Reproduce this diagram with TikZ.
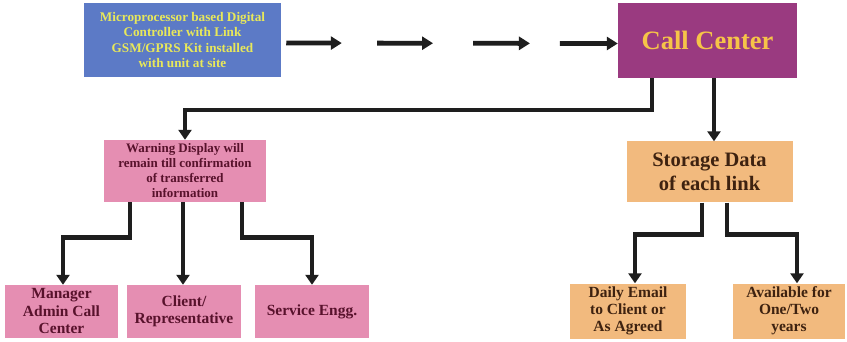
\documentclass[tikz,border=0pt]{standalone}
\usepackage{fontspec}
\setmainfont{Liberation Serif}
\usetikzlibrary{arrows.meta,calc}
\definecolor{bluebox}{RGB}{92,122,198}
\definecolor{bluetext}{RGB}{232,232,90}
\definecolor{purplebox}{RGB}{154,58,128}
\definecolor{purpletext}{RGB}{246,196,72}
\definecolor{pinkbox}{RGB}{229,142,178}
\definecolor{pinktext}{RGB}{88,18,44}
\definecolor{tanbox}{RGB}{242,186,126}
\definecolor{tantext}{RGB}{62,34,16}
\definecolor{linecol}{RGB}{30,30,30}
\tikzset{
  x=1pt, y=-1pt,
  boxbase/.style={rectangle, inner sep=1pt, align=center, font=\bfseries},
  bluenode/.style={boxbase, fill=bluebox, text=bluetext, minimum width=197pt, minimum height=74pt, font=\bfseries\fontsize{13.2}{15.5}\selectfont},
  callnode/.style={boxbase, fill=purplebox, text=purpletext, minimum width=179pt, minimum height=75pt, font=\bfseries\fontsize{26.5}{30}\selectfont},
  pinknode/.style={boxbase, fill=pinkbox, text=pinktext, font=\bfseries\fontsize{15.5}{17.5}\selectfont},
  tannode/.style={boxbase, fill=tanbox, text=tantext, font=\bfseries\fontsize{15.5}{17}\selectfont},
  conn/.style={draw=linecol, line width=4.8pt, -{Triangle[width=13pt,length=10pt]}},
  hconn/.style={draw=linecol, line width=4.8pt, -{Triangle[width=13pt,length=11pt]}}
}
\begin{document}
\begin{tikzpicture}
\useasboundingbox[fill=white] (0,0) rectangle (847,342);
\node[bluenode] (src) at (182.5,40) {Microprocessor based Digital\\Controller with Link\\GSM/GPRS Kit installed\\with unit at site};
\node[callnode] (call) at (707.5,40.5) {Call Center};
\node[pinknode, minimum width=162pt, minimum height=62pt, font=\bfseries\fontsize{13}{15}\selectfont] (warn) at (185,171) {Warning Display will\\remain till confirmation\\of transferred\\information};
\node[tannode, minimum width=166pt, minimum height=61pt, font=\bfseries\fontsize{20.5}{24}\selectfont] (store) at (709.5,172) {Storage Data\\of each link};
\node[pinknode, minimum width=113pt, minimum height=53pt] (mgr) at (61.5,311.5) {Manager\\Admin Call\\Center};
\node[pinknode, minimum width=114pt, minimum height=53pt] (client) at (184,311.5) {Client/\\Representative};
\node[pinknode, minimum width=114pt, minimum height=53pt] (serv) at (312,311.5) {Service Engg.};
\node[tannode, minimum width=116pt, minimum height=55pt] (daily) at (628,311) {Daily Email\\to Client or\\As Agreed};
\node[tannode, minimum width=112pt, minimum height=55pt] (avail) at (789,311) {Available for\\One/Two\\years};
% dashed style arrows from source to call center
\draw[hconn] ($(src.east)!0.015!(call.west)+(0,3)$) -- ($(src.east)!0.18!(call.west)+(0,3)$);
\draw[hconn] ($(src.east)!0.285!(call.west)+(0,3)$) -- ($(src.east)!0.451!(call.west)+(0,3)$);
\draw[hconn] ($(src.east)!0.57!(call.west)+(0,3)$) -- ($(src.east)!0.739!(call.west)+(0,3)$);
\draw[hconn] ($(src.east)!0.828!(call.west)+(0,3)$) -- (call.west |- 0,43.5);
% call center to warning and storage
\draw[conn] ($(call.south)+(-55.5,0)$) |- (warn.north |- 0,110) -- (warn.north);
\draw[conn] ($(call.south)+(6.5,0)$) -- ($(store.north)+(4.5,0)$);
% warning to recipients
\draw[conn] ($(warn.south)+(-55,0)$) -- ++(0,35) -| ($(mgr.north)+(1.5,0)$);
\draw[conn] ($(warn.south)+(-2,0)$) -- ($(client.north)+(-1,0)$);
\draw[conn] ($(warn.south)+(57,0)$) -- ++(0,35) -| (serv.north);
% storage to outputs
\draw[conn] ($(store.south)+(-7.5,0)$) -- ++(0,32) -| ($(daily.north)+(7,0)$);
\draw[conn] ($(store.south)+(17.5,0)$) -- ++(0,32) -| ($(avail.north)+(8,0)$);
\end{tikzpicture}
\end{document}
